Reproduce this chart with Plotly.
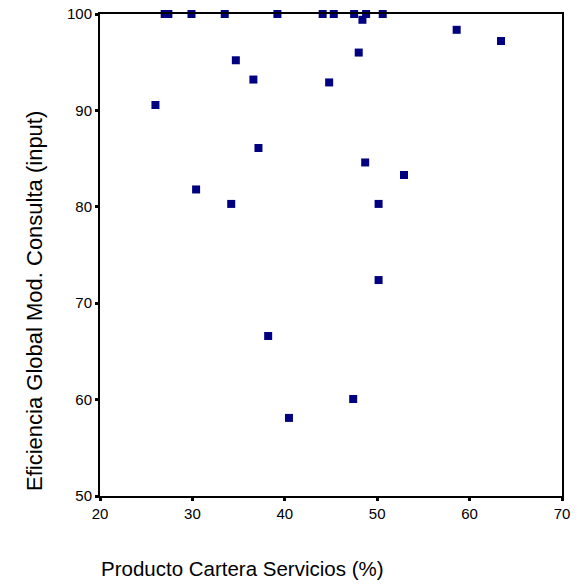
import plotly.graph_objects as go

producto = [27.0, 27.4, 29.9, 33.5, 39.2, 44.1, 45.3, 47.5, 48.8, 50.6, 48.4,
            34.7, 36.6, 26.0, 44.8, 58.6, 63.4, 48.0, 37.15, 30.4, 34.2,
            48.7, 52.9, 50.15, 50.15, 40.45, 47.4, 38.2]
eficiencia = [100, 100, 100, 100, 100, 100, 100, 100, 100, 100, 99.4,
              95.2, 93.2, 90.56, 92.9, 98.36, 97.2, 96.0, 86.1, 81.8, 80.3,
              84.6, 83.3, 80.3, 72.4, 58.1, 60.06, 66.6]

x_ticks = [20, 30, 40, 50, 60, 70]
y_ticks = [50, 60, 70, 80, 90, 100]

fig = go.Figure()
fig.add_trace(go.Scatter(
    x=producto, y=eficiencia, mode="markers",
    marker=dict(symbol="square", size=8, color="#000080", line=dict(width=0)),
    cliponaxis=False, showlegend=False,
))

font = "Liberation Sans, Arial, sans-serif"
axis_common = dict(showgrid=False, zeroline=False, automargin=False,
                   showline=True, linecolor="black", linewidth=2, mirror=True,
                   ticks="outside", ticklen=3, tickwidth=3, tickcolor="black",
                   tickfont=dict(size=15))
fig.update_layout(
    width=583, height=584,
    margin=dict(l=100, r=21, t=14, b=88),
    paper_bgcolor="white", plot_bgcolor="white",
    font=dict(family=font, size=15, color="black"),
    xaxis=dict(range=[20, 70], tickvals=x_ticks, **axis_common),
    yaxis=dict(range=[50, 100], tickvals=y_ticks, **axis_common),
    annotations=[
        dict(text="Producto Cartera Servicios (%)", xref="paper", yref="paper",
             x=(242 - 100) / 462, y=-(568 - 496) / 482, showarrow=False,
             font=dict(size=20.5), xanchor="center", yanchor="middle"),
        dict(text="Eficiencia Global Mod. Consulta (input)", xref="paper", yref="paper",
             x=-(100 - 34) / 462, y=(496 - 301) / 482, showarrow=False, textangle=-90,
             font=dict(size=22), xanchor="center", yanchor="middle"),
    ],
)

fig.write_html("out.html")
